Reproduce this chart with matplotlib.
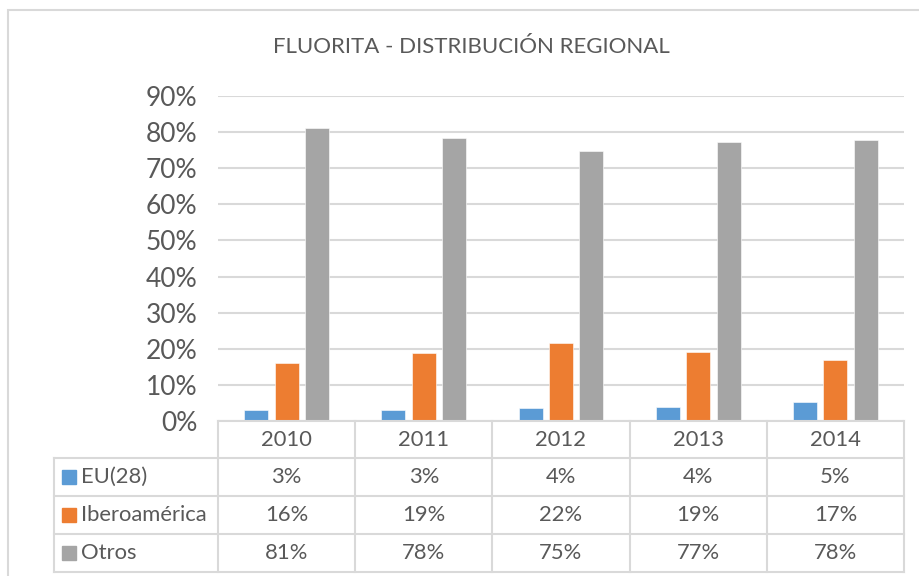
import numpy as np
import matplotlib
matplotlib.use("Agg")
import matplotlib.pyplot as plt
from matplotlib.patches import Rectangle
from matplotlib.lines import Line2D
import matplotlib.transforms as mtransforms

plt.rcParams['font.family'] = ['Lato', 'DejaVu Sans']

years = ['2010', '2011', '2012', '2013', '2014']
series = ['EU(28)', 'Iberoamérica', 'Otros']
eu = [3.0, 3.1, 3.7, 3.8, 5.3]
ibero = [16.0, 18.8, 21.7, 19.0, 16.9]
otros = [81.1, 78.3, 74.7, 77.3, 77.9]
table_eu = ['3%', '3%', '4%', '4%', '5%']
table_ibero = ['16%', '19%', '22%', '19%', '17%']
table_otros = ['81%', '78%', '75%', '77%', '78%']
yticks = [0, 10, 20, 30, 40, 50, 60, 70, 80, 90]
title = 'FLUORITA - DISTRIBUCIÓN REGIONAL'

colors = ['#5B9BD5', '#ED7D31', '#A5A5A5']
txt = '#595959'
grid = '#D9D9D9'

W, H = 920, 576
fig = plt.figure(figsize=(W / 100, H / 100), dpi=100)

def fy(py):
    return 1 - py / H

def fx(px):
    return px / W

# chart border
fig.patches.append(Rectangle((fx(8), fy(585)), fx(940) - fx(8), fy(10) - fy(585),
                             transform=fig.transFigure, fill=False,
                             edgecolor=grid, lw=1.5, zorder=0))

ax_l, ax_r, ax_t, ax_b = 218, 904, 96, 421
ax = fig.add_axes([fx(ax_l), fy(ax_b), fx(ax_r) - fx(ax_l), fy(ax_t) - fy(ax_b)])
ax.patch.set_alpha(0)

x = np.arange(len(years))
bw = 0.175
off = 0.222
for i, vals in enumerate([eu, ibero, otros]):
    ax.bar(x + (i - 1) * off, vals, width=bw, color=colors[i],
           edgecolor='white', linewidth=0.4, zorder=3)

ax.set_xlim(-0.5, len(years) - 0.5)
ax.set_ylim(0, 90)
ax.set_yticks(yticks)
ax.set_yticklabels([f'{v}%' for v in yticks], fontsize=19, color=txt)
ax.tick_params(axis='y', length=0, pad=15)
ax.set_xticks([])
for s in ax.spines.values():
    s.set_visible(False)
ax.yaxis.grid(True, color=grid, lw=1.5, zorder=0)
ax.set_axisbelow(True)

fig.text(fx(471), fy(47), title, ha='center', va='center', fontsize=16, color=txt)

# data table
bt = mtransforms.blended_transform_factory(ax.transData, fig.transFigure)
rows_y = [421, 458, 496, 534, 572]
left_col = 54

lw = 1.5
fig.add_artist(Line2D([fx(ax_l), fx(ax_r)], [fy(421), fy(421)], color=grid, lw=lw,
                      transform=fig.transFigure))
for ry in rows_y[1:]:
    fig.add_artist(Line2D([fx(left_col), fx(ax_r)], [fy(ry), fy(ry)], color=grid, lw=lw,
                          transform=fig.transFigure))
for k in range(len(years) + 1):
    fig.add_artist(Line2D([k - 0.5, k - 0.5], [fy(421), fy(572)], color=grid, lw=lw,
                          transform=bt))
fig.add_artist(Line2D([fx(left_col), fx(left_col)], [fy(458), fy(572)], color=grid, lw=lw,
                      transform=fig.transFigure))

fs = 15.8
row_centers = [(rows_y[i] + rows_y[i + 1]) / 2 for i in range(4)]
for j, yr in enumerate(years):
    fig.text(j, fy(row_centers[0]), yr, transform=bt, ha='center', va='center',
             fontsize=fs, color=txt)
for r, vals in enumerate([table_eu, table_ibero, table_otros]):
    cy = row_centers[r + 1]
    for j, v in enumerate(vals):
        fig.text(j, fy(cy), v, transform=bt, ha='center', va='center',
                 fontsize=fs, color=txt)
    fig.patches.append(Rectangle((fx(62), fy(cy + 7)), fx(14), 14 / H,
                                 transform=fig.transFigure, color=colors[r]))
    fig.text(fx(81), fy(cy), series[r], ha='left', va='center', fontsize=fs, color=txt)

fig.savefig('out.png', dpi=100)
